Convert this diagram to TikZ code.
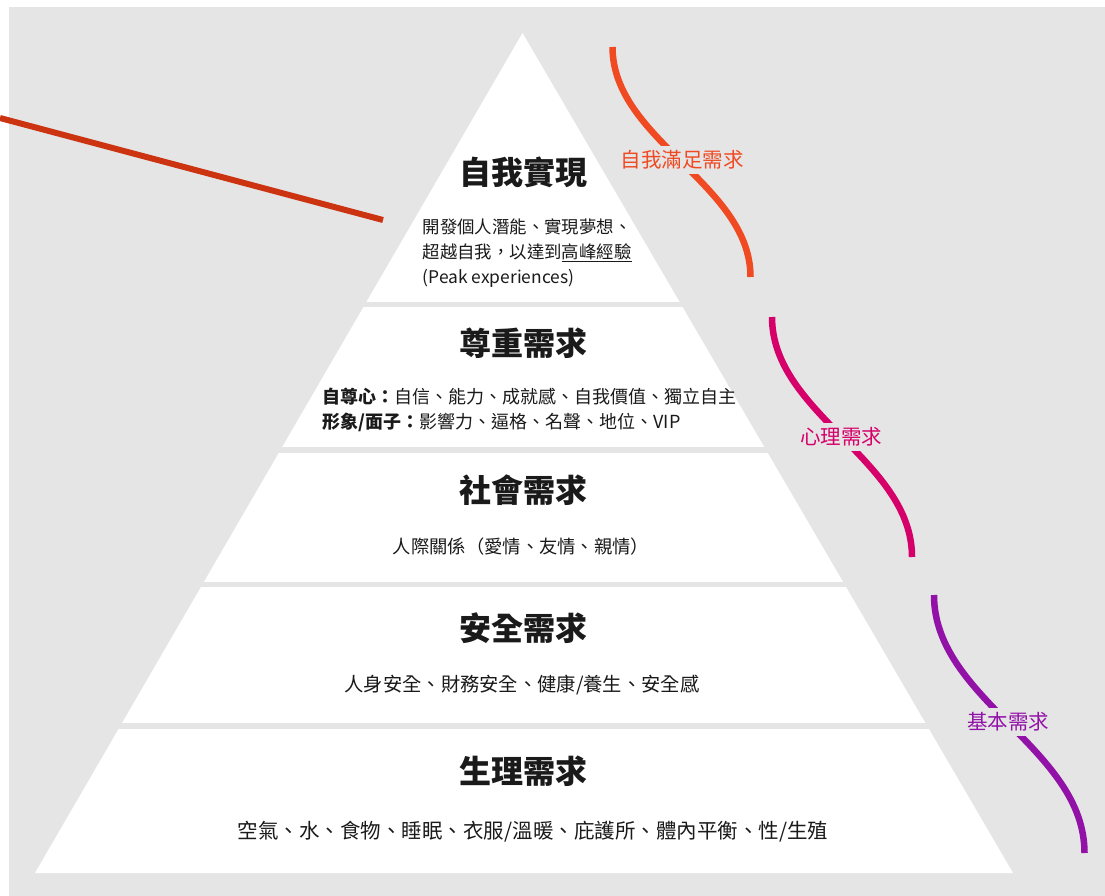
\documentclass[tikz,border=0pt]{standalone}
\usepackage{fontspec}
\setmainfont{Noto Sans CJK TC}
\definecolor{bggray}{HTML}{E5E5E5}
\definecolor{redline}{RGB}{204,51,17}
\definecolor{c1}{RGB}{240,74,35}
\definecolor{c2}{RGB}{214,0,106}
\definecolor{c3}{RGB}{146,18,168}
\definecolor{txt}{HTML}{1A1A1A}
\tikzset{
  title/.style={font=\fontsize{32}{32}\selectfont\bfseries, text=txt, inner sep=0pt},
  body/.style={font=\fontsize{17.4}{25}\selectfont, text=txt, inner sep=0pt, align=left},
  bodytwo/.style={font=\fontsize{18}{25}\selectfont, text=txt, inner sep=0pt, align=left},
  bodymid/.style={font=\fontsize{18.3}{25}\selectfont, text=txt, inner sep=0pt},
  bodyfour/.style={font=\fontsize{19.3}{25}\selectfont, text=txt, inner sep=0pt},
  bodyfive/.style={font=\fontsize{20.5}{25}\selectfont, text=txt, inner sep=0pt},
  curvelabel/.style={font=\fontsize{20.5}{20.5}\selectfont, fill=bggray, inner xsep=2pt, inner ysep=5pt},
  gap/.style={fill=bggray, draw=none},
  brace/.style={line width=6.5pt}
}
\begin{document}
\begin{tikzpicture}[x=1pt,y=-1pt]
\useasboundingbox (0,0) rectangle (1105,896);
\fill[white] (0,0) rectangle (1105,896);
\fill[bggray] (9,7) rectangle (1105,896);
% pyramid
\coordinate (apex) at (522.5,33);
\coordinate (bl) at (35,873);
\coordinate (br) at (1013,873);
\fill[white] (apex) -- (bl) -- (br) -- cycle;
% gaps between tiers
\fill[gap] (9,302) rectangle (1105,307);
\fill[gap] (9,447) rectangle (1105,452.5);
\fill[gap] (9,581.5) rectangle (1105,587);
\fill[gap] (9,723) rectangle (1105,728.5);
% red line
\coordinate (rl1) at (0,118);
\coordinate (rl2) at (383,220);
\draw[redline, line width=6pt] (rl1) -- (rl2);
% tier 1
\node[title] (t1) at (523,172) {自我實現};
\node[body, anchor=west] (b1) at (422.5,253) {開發個人潛能、實現夢想、\\超越自我，以達到\underline{高峰經驗}\\(Peak experiences)};
% tier 2
\node[title] (t2) at (523,343) {尊重需求};
\node[bodytwo, anchor=west] (b2) at (322.5,409.5) {\textbf{自尊心：}自信、能力、成就感、自我價值、獨立自主\\\textbf{形象/面子：}影響力、逼格、名聲、地位、VIP};
% tier 3
\node[title] (t3) at (523,490) {社會需求};
\node[bodymid] (b3) at (521,547) {人際關係（愛情、友情、親情）};
% tier 4
\node[title] (t4) at (523,628) {安全需求};
\node[bodyfour] (b4) at (522,685) {人身安全、財務安全、健康/養生、安全感};
% tier 5
\node[title] (t5) at (523,771) {生理需求};
\node[bodyfive] (b5) at (533,832) {空氣、水、食物、睡眠、衣服/溫暖、庇護所、體內平衡、性/生殖};
% curves
\coordinate (a1) at (612.5,47);
\coordinate (e1) at (750.5,277);
\draw[c1, brace] (a1) .. controls (612.5,140) and (750.5,184) .. (e1);
\node[curvelabel, text=c1] (l1) at (682,160) {自我滿足需求};
\coordinate (a2) at (772,317);
\coordinate (e2) at (912,557);
\draw[c2, brace] (a2) .. controls (772,414) and (912,460) .. (e2);
\node[curvelabel, text=c2] (l2) at (841,437) {心理需求};
\coordinate (a3) at (934,595);
\coordinate (e3) at (1084.5,853);
\draw[c3, brace] (a3) .. controls (934,700) and (1084.5,748) .. (e3);
\node[curvelabel, text=c3] (l3) at (1008,722) {基本需求};
\end{tikzpicture}
\end{document}
